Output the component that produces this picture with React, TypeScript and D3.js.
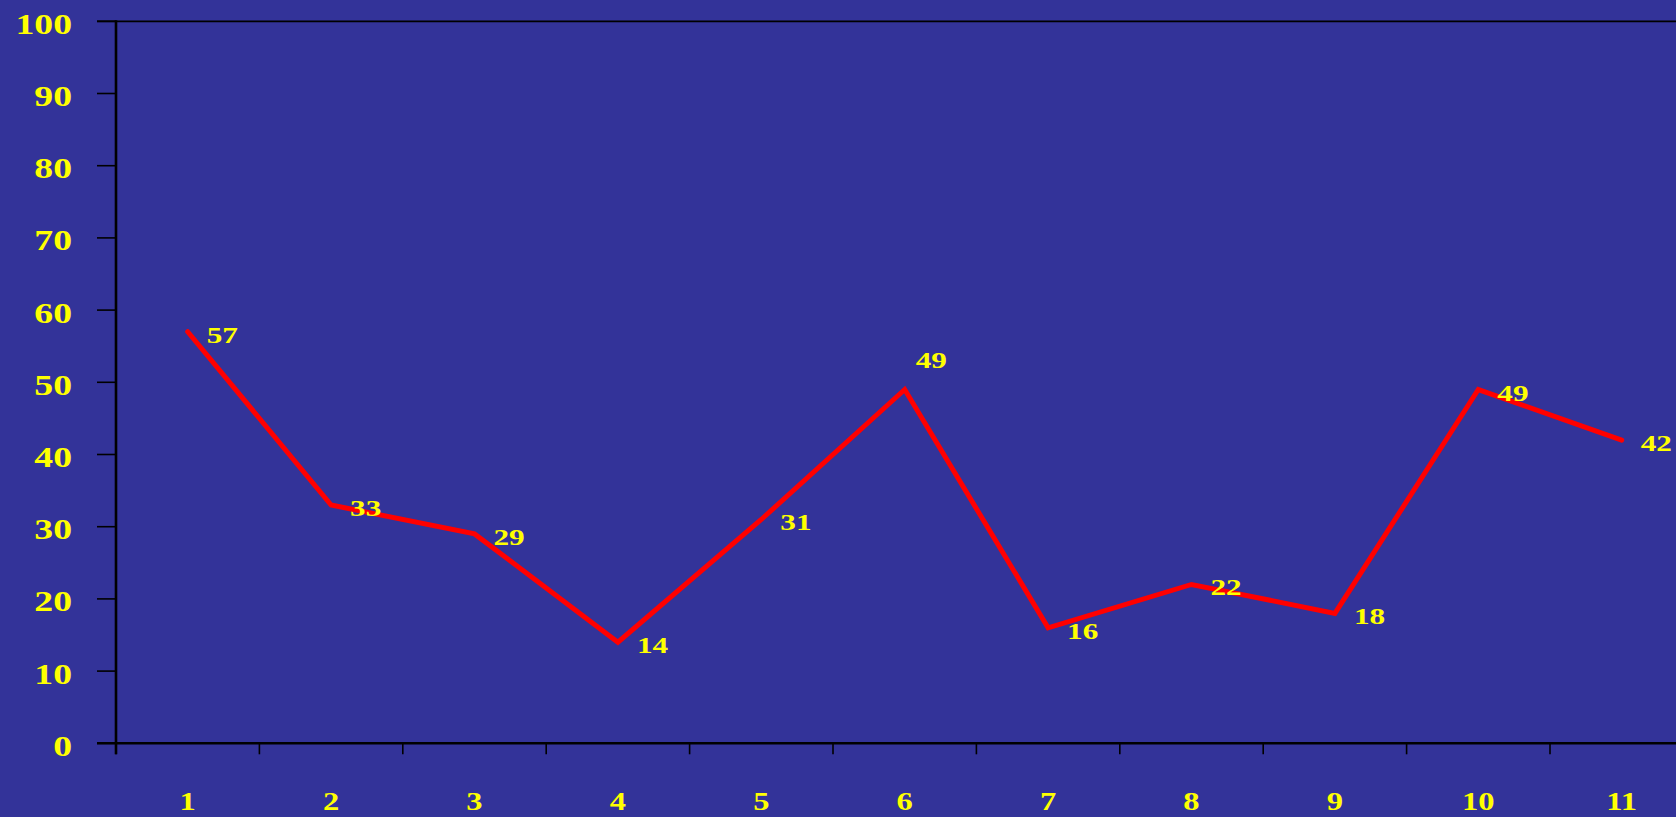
import React from "react";
import * as d3 from "d3";

const categories: string[] = ["1", "2", "3", "4", "5", "6", "7", "8", "9", "10", "11"];
const values: number[] = [57, 33, 29, 14, 31, 49, 16, 22, 18, 49, 42];
const yTicks: number[] = [0, 10, 20, 30, 40, 50, 60, 70, 80, 90, 100];

const W = 1676;
const H = 817;
const BG = "#333399";
const YELLOW = "#FFFF00";
const FONT = "'Liberation Serif', 'Times New Roman', serif";
const STRETCH = 1.3;

export default function App() {
  const left = 116;
  const step = 143.4;
  const x = d3.scaleBand<string>().domain(categories).range([left, left + step * categories.length]).padding(0);
  const y = d3.scaleLinear().domain([0, 100]).range([743.3, 21.3]);
  const cx = (c: string) => (x(c) as number) + x.bandwidth() / 2;

  const line = d3
    .line<number>()
    .x((_, i) => cx(categories[i]))
    .y((v) => y(v));

  // label nudge: most labels sit to the right of the point, the sixth one was moved above
  const labelPos = (i: number) => (i === 5 ? { dx: 11, dy: -22 } : { dx: 19, dy: 11 });

  return (
    <svg
      width={W}
      height={H}
      style={{ position: "fixed", left: 0, top: 0, display: "block", background: BG }}
    >
      <rect x={0} y={0} width={W} height={H} fill={BG} />
      {/* top border */}
      <line x1={97} x2={W} y1={y(100)} y2={y(100)} stroke="#000" strokeWidth={1.8} />
      {/* y ticks */}
      {yTicks.map((t) => (
        <line key={"yt" + t} x1={97} x2={left} y1={y(t)} y2={y(t)} stroke="#000" strokeWidth={1.6} />
      ))}
      {/* x axis */}
      <line x1={97} x2={W} y1={y(0)} y2={y(0)} stroke="#000" strokeWidth={2.4} />
      {/* x ticks at band boundaries */}
      {categories.map((c) => (
        <line
          key={"xt" + c}
          x1={x(c) as number}
          x2={x(c) as number}
          y1={y(0)}
          y2={y(0) + 11}
          stroke="#000"
          strokeWidth={1.6}
        />
      ))}
      {/* y axis */}
      <line x1={left} x2={left} y1={y(100) - 1} y2={y(0) + 11} stroke="#000" strokeWidth={2.6} />

      {/* y labels */}
      {yTicks.map((t) => (
        <text
          key={"yl" + t}
          transform={`translate(72,${y(t) + 12.5}) scale(${STRETCH},1)`}
          textAnchor="end"
          fontFamily={FONT}
          fontWeight="bold"
          fontSize={29}
          fill={YELLOW}
        >
          {t}
        </text>
      ))}

      {/* x labels */}
      {categories.map((c) => (
        <text
          key={"xl" + c}
          transform={`translate(${cx(c)},810) scale(${STRETCH},1)`}
          textAnchor="middle"
          fontFamily={FONT}
          fontWeight="bold"
          fontSize={25}
          fill={YELLOW}
        >
          {c}
        </text>
      ))}

      {/* series line */}
      <path
        d={line(values) || ""}
        fill="none"
        stroke="#FF0000"
        strokeWidth={5}
        strokeLinejoin="miter"
        strokeLinecap="round"
      />

      {/* data labels */}
      {values.map((v, i) => {
        const p = labelPos(i);
        return (
          <text
            key={"dl" + i}
            transform={`translate(${cx(categories[i]) + p.dx},${y(v) + p.dy}) scale(${STRETCH},1)`}
            textAnchor="start"
            fontFamily={FONT}
            fontWeight="bold"
            fontSize={24}
            fill={YELLOW}
          >
            {v}
          </text>
        );
      })}
    </svg>
  );
}
